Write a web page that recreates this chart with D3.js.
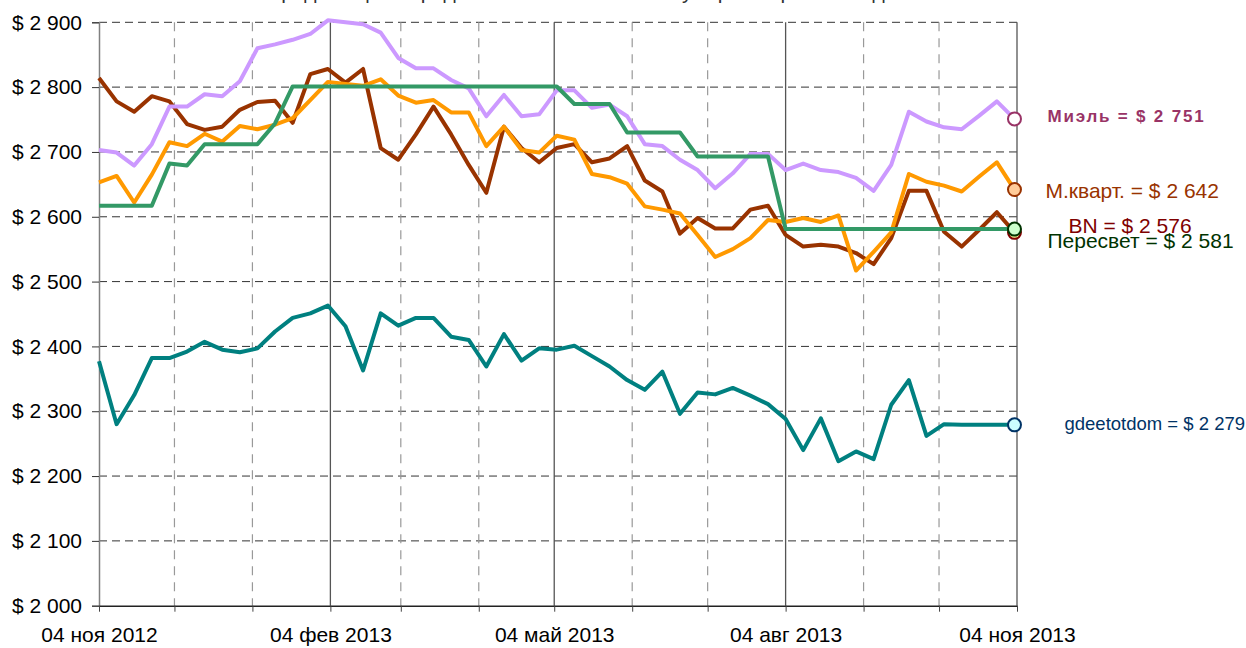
<!DOCTYPE html>
<html>
<head>
<meta charset="utf-8">
<script src="https://cdn.jsdelivr.net/npm/d3@7"></script>
<style>
  body { margin: 0; background: #fff; }
  svg { display: block; font-family: "Liberation Sans", Arial, sans-serif; }
</style>
</head>
<body>
<svg id="chart" width="1246" height="648"></svg>
<script>
// weekly observations, first one on 04 Nov 2012
const firstWeek = new Date(Date.UTC(2012, 10, 4));
const weekCount = 53;
const weekDates = d3.range(weekCount).map(i => d3.utcDay.offset(firstWeek, 7 * i));

const ruMonths = ["янв", "фев", "мар", "апр", "май", "июн", "июл", "авг", "сен", "окт", "ноя", "дек"];
const yTickValues = [2000, 2100, 2200, 2300, 2400, 2500, 2600, 2700, 2800, 2900];

const mielValues = [2703, 2699, 2679, 2712, 2770, 2770, 2789, 2786, 2809, 2860,
  2866, 2873, 2882, 2903, 2900, 2897, 2884, 2845, 2829, 2829,
  2811, 2798, 2755, 2788, 2755, 2758, 2795, 2795, 2768, 2773,
  2755, 2712, 2709, 2688, 2672, 2644, 2667, 2697, 2697, 2672,
  2682, 2672, 2669, 2660, 2640, 2680, 2762, 2747, 2738, 2735,
  2756, 2778, 2751];

const mkvartValues = [2653, 2663, 2622, 2665, 2715, 2709, 2728, 2716, 2740, 2735,
  2742, 2752, 2780, 2808, 2805, 2802, 2812, 2787, 2776, 2780,
  2761, 2761, 2709, 2739, 2703, 2699, 2725, 2719, 2666, 2661,
  2651, 2616, 2611, 2605, 2572, 2538, 2550, 2567, 2595, 2592,
  2598, 2592, 2602, 2517, 2546, 2576, 2666, 2654, 2648, 2639,
  2662, 2684, 2642];

const bnValues = [2814, 2778, 2762, 2786, 2778, 2743, 2734, 2739, 2765, 2777,
  2779, 2745, 2820, 2828, 2807, 2828, 2706, 2688, 2727, 2770,
  2727, 2680, 2637, 2739, 2706, 2684, 2706, 2712, 2684, 2690,
  2709, 2656, 2639, 2574, 2598, 2582, 2582, 2611, 2617, 2572,
  2554, 2557, 2554, 2544, 2527, 2567, 2640, 2640, 2577, 2554,
  2580, 2607, 2576];

const peresvetValues = [2617, 2617, 2617, 2617, 2682, 2679, 2712, 2712, 2712, 2712,
  2744, 2801, 2801, 2801, 2801, 2801, 2801, 2801, 2801, 2801,
  2801, 2801, 2801, 2801, 2801, 2801, 2801, 2774, 2774, 2774,
  2730, 2730, 2730, 2730, 2693, 2693, 2693, 2693, 2693, 2581,
  2581, 2581, 2581, 2581, 2581, 2581, 2581, 2581, 2581, 2581,
  2581, 2581, 2581];

const gdeetotdomValues = [2377, 2280, 2325, 2382, 2382, 2392, 2407, 2395, 2391, 2397,
  2423, 2444, 2451, 2463, 2431, 2363, 2451, 2432, 2444, 2444,
  2415, 2410, 2369, 2419, 2378, 2397, 2395, 2401, 2385, 2369,
  2348, 2333, 2361, 2296, 2329, 2326, 2336, 2324, 2311, 2288,
  2240, 2289, 2223, 2238, 2226, 2310, 2348, 2262, 2280, 2279,
  2279, 2279, 2279];

// drawing order = order of this list (Пересвет ends on top)
const series = [
  { name: "gdeetotdom", values: gdeetotdomValues, color: "#008080",
    labelColor: "#003366", dotFill: "#CCFFFF", dotStroke: "#003366",
    fontSize: 18.5, bold: false, spacing: 0, dx: 50, dy: -1 },
  { name: "BN", values: bnValues, color: "#993300",
    labelColor: "#800000", dotFill: "#FFFF99", dotStroke: "#800000",
    fontSize: 21, bold: false, spacing: 0, dx: 54, dy: -7 },
  { name: "М.кварт.", values: mkvartValues, color: "#FF9900",
    labelColor: "#993300", dotFill: "#FFCC99", dotStroke: "#993300",
    fontSize: 21, bold: false, spacing: 0, dx: 31, dy: 1 },
  { name: "Миэль", values: mielValues, color: "#CC99FF",
    labelColor: "#993366", dotFill: "#FFFFFF", dotStroke: "#993366",
    fontSize: 17, bold: true, spacing: 1.8, dx: 33, dy: -3 },
  { name: "Пересвет", values: peresvetValues, color: "#339966",
    labelColor: "#003300", dotFill: "#CCFFCC", dotStroke: "#003300",
    fontSize: 21, bold: false, spacing: 0, dx: 33, dy: 12 }
];

const svg = d3.select("#chart");
const width = +svg.attr("width");
const margin = { left: 99, right: 229, top: 22.3, bottom: 42.3 };
const plotRight = width - margin.right;
const plotBottom = 648 - margin.bottom;

const money = d3.formatLocale({ decimal: ",", thousands: " ", grouping: [3], currency: ["$ ", ""] }).format("$,.0f");
const fmtDate = d => `${String(d.getUTCDate()).padStart(2, "0")} ${ruMonths[d.getUTCMonth()]} ${d.getUTCFullYear()}`;

const x = d3.scaleUtc()
  .domain([firstWeek, new Date(Date.UTC(2013, 10, 4))])
  .range([margin.left, plotRight]);

const y = d3.scaleLinear()
  .domain([2000, 2900])
  .range([plotBottom, margin.top]);

// month ticks on the 4th; every third one carries a label
const monthTicks = d3.utcMonth.range(new Date(Date.UTC(2012, 10, 1)), new Date(Date.UTC(2013, 11, 1)))
  .map(d => d3.utcDay.offset(d, 3));
const isQuarter = d => (d.getUTCMonth() - 10 + 12) % 3 === 0;

svg.append("rect").attr("width", width).attr("height", 648).attr("fill", "#fff");

// title, mostly cut off by the top edge in the original
svg.append("text")
  .attr("x", 600).attr("y", -1)
  .attr("text-anchor", "middle")
  .attr("font-size", 21)
  .attr("fill", "#333")
  .text("Средняя цена предложения 1 кв. м жилья у агрегаторов по неделям");

// gridlines
const grid = svg.append("g").attr("class", "grid");
grid.selectAll(".hgrid")
  .data(yTickValues.filter(v => v > 2000))
  .join("line")
  .attr("class", "hgrid")
  .attr("x1", margin.left).attr("x2", plotRight)
  .attr("y1", d => y(d)).attr("y2", d => y(d))
  .attr("stroke", "#333")
  .attr("stroke-width", 1)
  .attr("stroke-dasharray", "8,5");

grid.selectAll(".vgrid")
  .data(monthTicks.slice(1))
  .join("line")
  .attr("class", "vgrid")
  .attr("x1", d => x(d)).attr("x2", d => x(d))
  .attr("y1", margin.top).attr("y2", plotBottom)
  .attr("stroke", d => isQuarter(d) ? "#555" : "#999")
  .attr("stroke-width", d => isQuarter(d) ? 1.3 : 1.2)
  .attr("stroke-dasharray", d => isQuarter(d) ? null : "9,7");

// axes
const yAxis = svg.append("g")
  .attr("transform", `translate(${margin.left},0)`)
  .call(d3.axisLeft(y).tickValues(yTickValues).tickFormat(money).tickSize(7).tickPadding(10));
yAxis.select(".domain").attr("stroke", "#808080").attr("stroke-width", 1.5);
yAxis.selectAll(".tick line").attr("stroke", "#333");
yAxis.selectAll("text").attr("font-size", 21).attr("fill", "#000").attr("font-family", null);

const xAxis = svg.append("g")
  .attr("transform", `translate(0,${plotBottom})`)
  .call(d3.axisBottom(x).tickValues(monthTicks)
    .tickFormat(d => isQuarter(d) ? fmtDate(d) : "")
    .tickSize(6).tickSizeOuter(0).tickPadding(15));
xAxis.select(".domain").attr("stroke", "#222").attr("stroke-width", 1.5);
xAxis.selectAll(".tick line").attr("stroke", "#444");
xAxis.selectAll("text").attr("font-size", 21).attr("fill", "#000").attr("font-family", null);

// lines
const line = d3.line()
  .x((d, i) => x(weekDates[i]))
  .y(d => y(d));

svg.append("g").selectAll("path")
  .data(series)
  .join("path")
  .attr("d", s => line(s.values))
  .attr("fill", "none")
  .attr("stroke", s => s.color)
  .attr("stroke-width", 4)
  .attr("stroke-linejoin", "round");

// end markers and value labels
const last = weekCount - 1;
svg.append("g").selectAll("circle")
  .data(series)
  .join("circle")
  .attr("cx", x(weekDates[last]))
  .attr("cy", s => y(s.values[last]))
  .attr("r", 6.5)
  .attr("fill", s => s.dotFill)
  .attr("stroke", s => s.dotStroke)
  .attr("stroke-width", 2);

svg.append("g").selectAll("text")
  .data(series)
  .join("text")
  .attr("x", s => x(weekDates[last]) + s.dx)
  .attr("y", s => y(s.values[last]) + s.dy)
  .attr("dy", "0.35em")
  .attr("font-size", s => s.fontSize)
  .attr("font-weight", s => s.bold ? "bold" : "normal")
  .attr("letter-spacing", s => s.spacing)
  .attr("fill", s => s.labelColor)
  .text(s => `${s.name} = ${money(s.values[last])}`);
</script>
</body>
</html>
